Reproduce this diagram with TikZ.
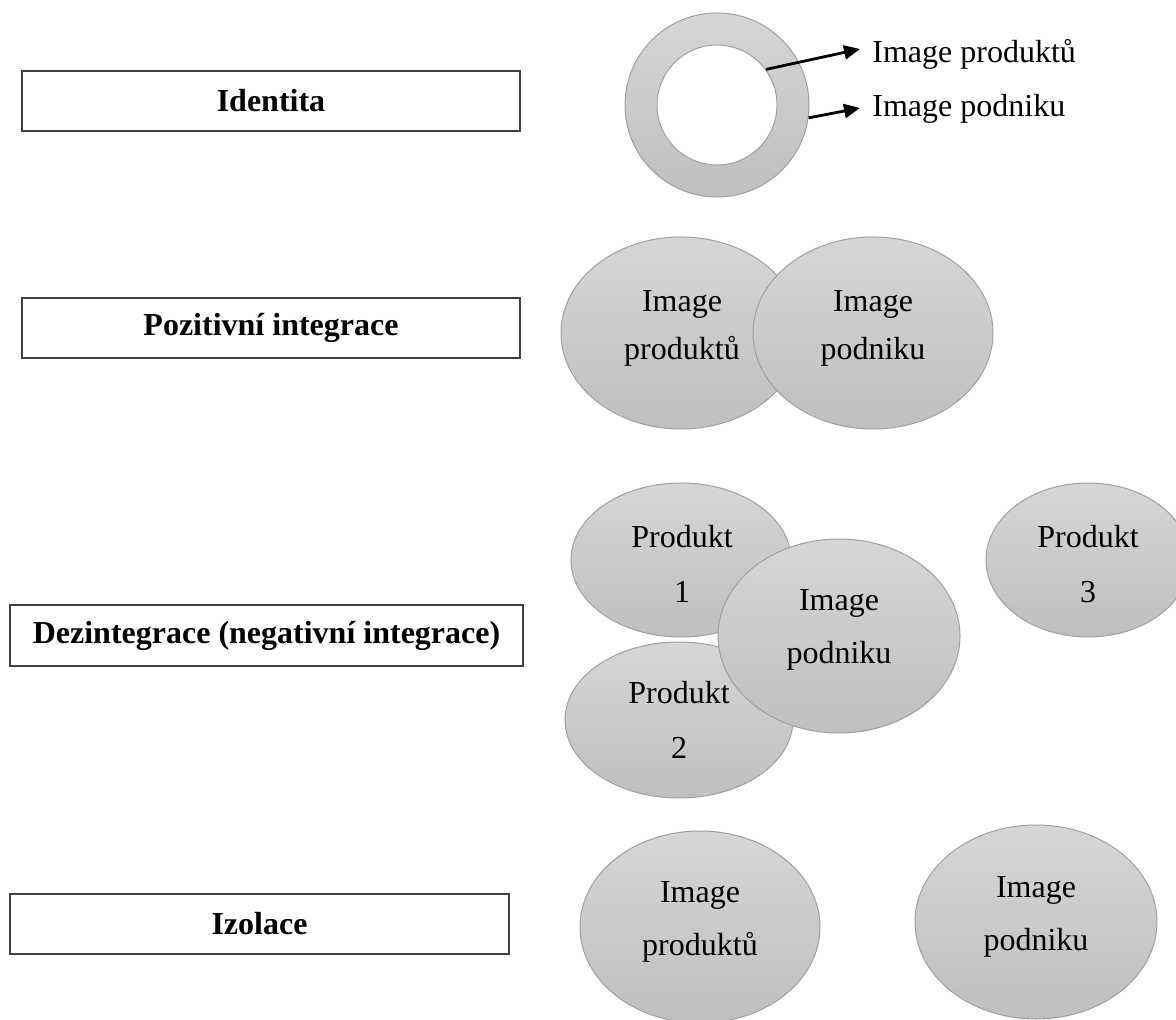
\documentclass[tikz,border=0pt]{standalone}
\usepackage{fontspec}
\setmainfont{Liberation Serif}
\usetikzlibrary{arrows.meta,shapes.geometric}
\definecolor{gtop}{HTML}{D6D6D6}
\definecolor{gbot}{HTML}{BFBFBF}
\definecolor{gline}{HTML}{A0A0A0}
\definecolor{boxline}{HTML}{404040}
\begin{document}
\begin{tikzpicture}[x=0.5pt,y=-0.5pt,
  lbl/.style={draw=boxline, line width=1pt, fill=white, inner sep=0pt,
    font=\fontsize{16}{19}\selectfont\bfseries},
  blob/.style={ellipse, draw=gline, line width=0.5pt, top color=gtop, bottom color=gbot, inner sep=0pt},
  ring/.style={circle, draw=gline, line width=0.5pt, inner sep=0pt},
  txt/.style={font=\fontsize{16}{19}\selectfont, inner sep=0pt},
  arr/.style={line width=1.4pt, -{Triangle[length=8pt,width=7pt]}}]
\useasboundingbox (0,0) rectangle (1176,1020);
\clip (0,0) rectangle (1176,1020);

% left label boxes
\node[lbl, minimum width=249pt, minimum height=30pt] (b1) at (271,101) {Identita};
\node[lbl, minimum width=249pt, minimum height=30pt] (b2) at (271,328) {Pozitivní integrace};
\node[lbl, minimum width=256.5pt, minimum height=30.5pt] (b3) at (266.5,635.5) {Dezintegrace (negativní integrace)};
\node[lbl, minimum width=249.5pt, minimum height=30pt] (b4) at (259.5,924) {Izolace};

% Identita: ring
\node[ring, minimum size=92pt, top color=gtop, bottom color=gbot] (outer) at (717,105) {};
\node[ring, minimum size=60pt, fill=white] (inner) at (717,105) {};
\node[txt, anchor=base west] (tprod) at (872,62.7) {Image produktů};
\node[txt, anchor=base west] (tpodn) at (872,117) {Image podniku};
\coordinate (tip1) at (860,49);
\coordinate (tip2) at (860,108);
\draw[arr] (inner.36) -- (tip1);
\draw[arr] (outer.-8) -- (tip2);

% Pozitivni integrace
\node[blob, minimum width=120pt, minimum height=96pt] (pip) at (681,333) {};
\node[blob, minimum width=120pt, minimum height=96pt] (pin) at (873,333) {};
\node[txt, anchor=base] (pip1) at (682,312) {Image};
\node[txt, anchor=base] (pip2) at (682,360) {produktů};
\node[txt, anchor=base] (pin1) at (873,312) {Image};
\node[txt, anchor=base] (pin2) at (873,360) {podniku};

% Dezintegrace
\node[blob, minimum width=110pt, minimum height=77pt] (d1) at (681,560) {};
\node[blob, minimum width=114pt, minimum height=78pt] (d2) at (679,720) {};
\node[blob, minimum width=121pt, minimum height=97pt] (dn) at (839,636) {};
\node[blob, minimum width=102pt, minimum height=77pt] (d3) at (1088,560) {};
\node[txt, anchor=base] (d1a) at (682,547) {Produkt};
\node[txt, anchor=base] (d1b) at (682,602) {1};
\node[txt, anchor=base] (d2a) at (679,703) {Produkt};
\node[txt, anchor=base] (d2b) at (679,758) {2};
\node[txt, anchor=base] (dna) at (839,610) {Image};
\node[txt, anchor=base] (dnb) at (839,663) {podniku};
\node[txt, anchor=base] (d3a) at (1088,547) {Produkt};
\node[txt, anchor=base] (d3b) at (1088,602) {3};

% Izolace
\node[blob, minimum width=120pt, minimum height=96pt] (ip) at (700,927) {};
\node[blob, minimum width=121pt, minimum height=97pt] (in) at (1036,922) {};
\node[txt, anchor=base] (ip1) at (700,902) {Image};
\node[txt, anchor=base] (ip2) at (700,955) {produktů};
\node[txt, anchor=base] (in1) at (1036,897) {Image};
\node[txt, anchor=base] (in2) at (1036,950) {podniku};
\end{tikzpicture}
\end{document}
